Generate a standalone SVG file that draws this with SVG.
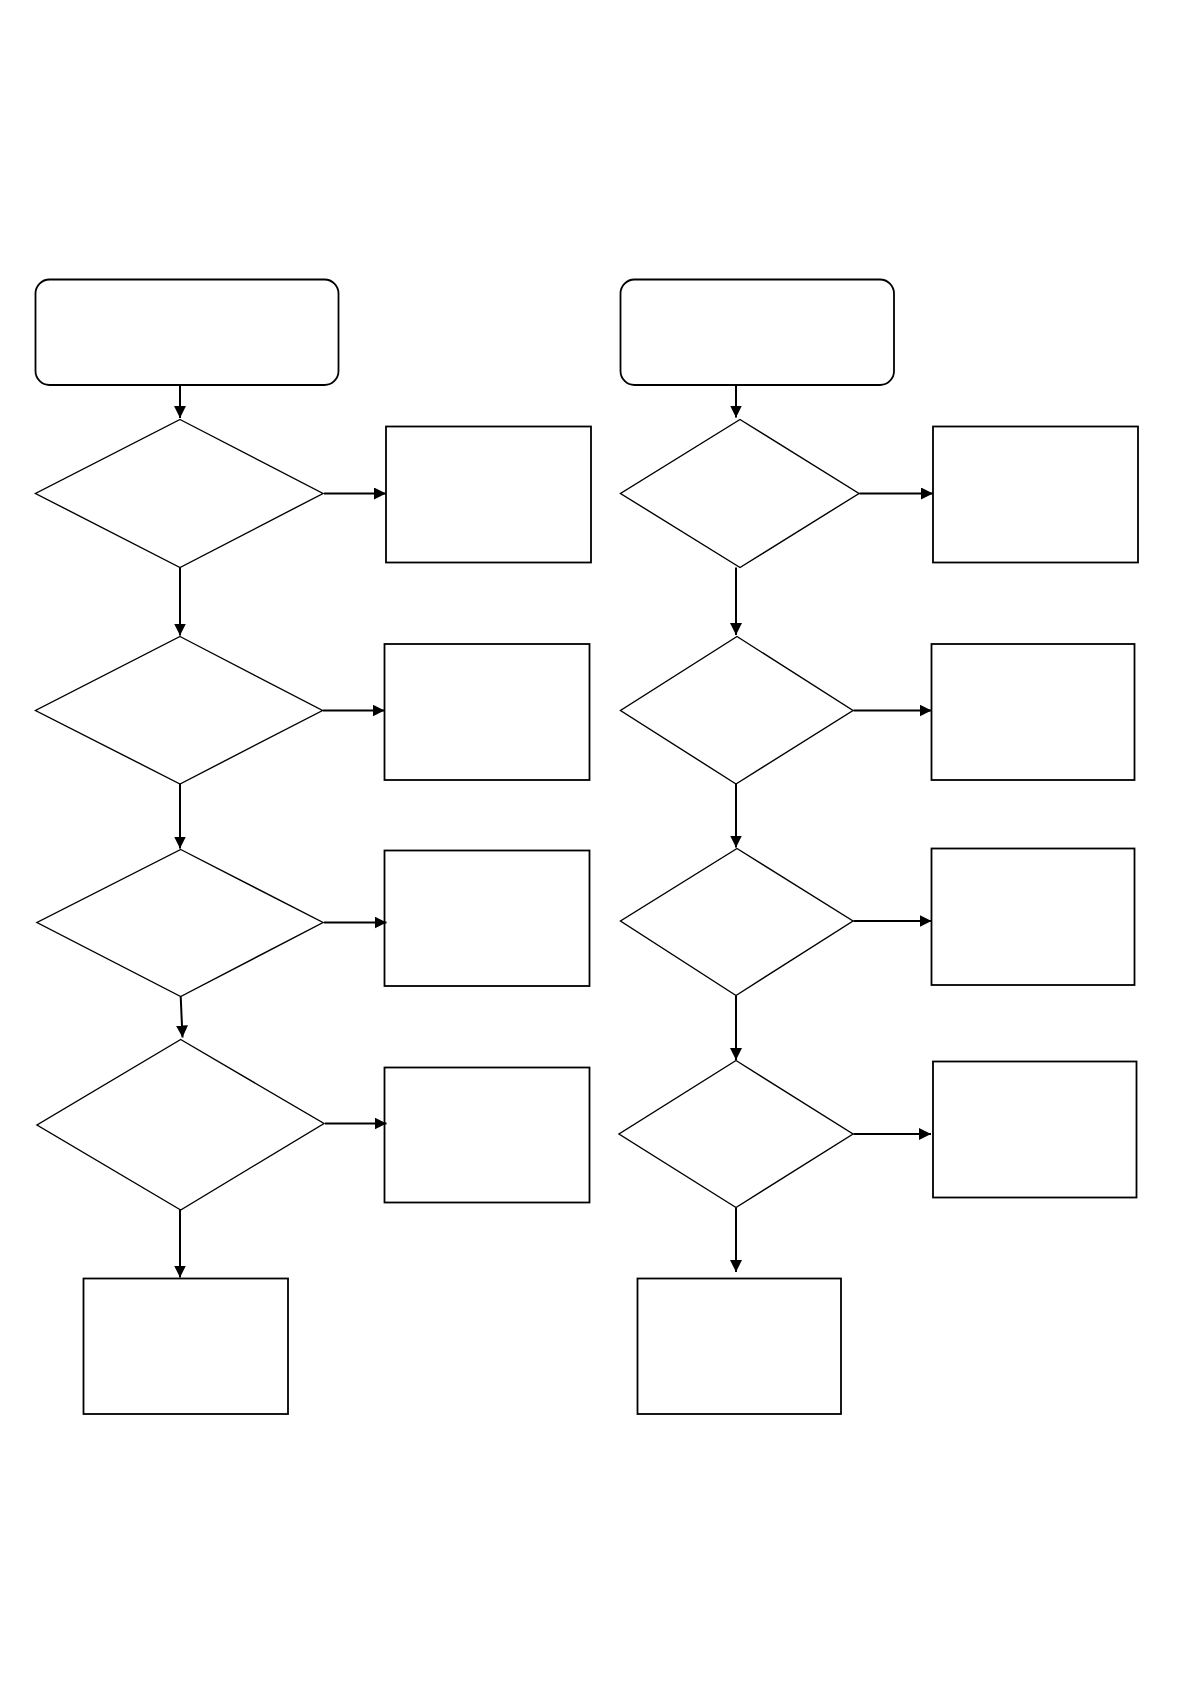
<svg xmlns="http://www.w3.org/2000/svg" width="1190" height="1684" viewBox="0 0 1190 1684">
<style>
.n{fill:#fff;stroke:#000;stroke-width:1.8}
.d{fill:#fff;stroke:#000;stroke-width:1.4}
.c{fill:none;stroke:#000;stroke-width:2}
</style>
<defs>
<marker id="ah" markerUnits="userSpaceOnUse" markerWidth="12" markerHeight="12" refX="12" refY="6" orient="auto">
<path d="M0,0 L12,6 L0,12 z" fill="#000"/>
</marker>
</defs>
<rect width="1190" height="1684" fill="#fff"/>
<g id="start-left"><rect class="n" x="35.5" y="279.5" width="303" height="105.5" rx="14"/></g>
<g id="start-right"><rect class="n" x="620.5" y="279.5" width="273.5" height="105.5" rx="14"/></g>

<g id="dl1"><polygon class="d" points="180,419.5 323,493.5 180,567.5 35.5,493.5"/></g>
<g id="dl2"><polygon class="d" points="180,636.5 322.5,710.5 180,784 35.5,710.5"/></g>
<g id="dl3"><polygon class="d" points="180.7,849.5 323,922.5 180.7,996.5 37,922.5"/></g>
<g id="dl4"><polygon class="d" points="180.7,1039.5 324,1123.5 180.7,1210 37,1125"/></g>

<g id="dr1"><polygon class="d" points="740,419.5 859,493.5 740,567.5 620.5,493.5"/></g>
<g id="dr2"><polygon class="d" points="737,636.5 853,710.5 736,784 620.5,710.5"/></g>
<g id="dr3"><polygon class="d" points="737,848.5 853,921 736,995.5 620.5,921"/></g>
<g id="dr4"><polygon class="d" points="736,1060.5 853,1134 736,1207.5 619,1134"/></g>

<g id="bl1"><rect class="n" x="386" y="426.5" width="205" height="136"/></g>
<g id="bl2"><rect class="n" x="384.5" y="644" width="205" height="136"/></g>
<g id="bl3"><rect class="n" x="384.5" y="850.5" width="205" height="135.5"/></g>
<g id="bl4"><rect class="n" x="384.5" y="1067.5" width="205" height="135"/></g>
<g id="bl5"><rect class="n" x="83.5" y="1278.5" width="204.5" height="135.5"/></g>

<g id="br1"><rect class="n" x="933" y="426.5" width="205" height="136"/></g>
<g id="br2"><rect class="n" x="931.5" y="644" width="203" height="136"/></g>
<g id="br3"><rect class="n" x="931.5" y="848.5" width="203" height="136.5"/></g>
<g id="br4"><rect class="n" x="933" y="1061.5" width="203.5" height="136"/></g>
<g id="br5"><rect class="n" x="637.5" y="1278.5" width="203.5" height="135.5"/></g>

<g id="connectors">
<line class="c" x1="180" y1="385" x2="180" y2="418" marker-end="url(#ah)"/>
<line class="c" x1="324" y1="493.5" x2="386" y2="493.5" marker-end="url(#ah)"/>
<line class="c" x1="180" y1="567.5" x2="180" y2="635.5" marker-end="url(#ah)"/>
<line class="c" x1="323" y1="710.5" x2="384.5" y2="710.5" marker-end="url(#ah)"/>
<line class="c" x1="180" y1="784" x2="180" y2="848.5" marker-end="url(#ah)"/>
<line class="c" x1="324" y1="922.5" x2="386.5" y2="922.5" marker-end="url(#ah)"/>
<line class="c" x1="180.7" y1="996.5" x2="182.5" y2="1037.5" marker-end="url(#ah)"/>
<line class="c" x1="325" y1="1123.5" x2="386.5" y2="1123.5" marker-end="url(#ah)"/>
<line class="c" x1="180" y1="1210" x2="180" y2="1277.5" marker-end="url(#ah)"/>

<line class="c" x1="736" y1="385" x2="736" y2="417.5" marker-end="url(#ah)"/>
<line class="c" x1="859.5" y1="493.5" x2="933" y2="493.5" marker-end="url(#ah)"/>
<line class="c" x1="736" y1="567.5" x2="736" y2="635" marker-end="url(#ah)"/>
<line class="c" x1="853.5" y1="710.5" x2="931.5" y2="710.5" marker-end="url(#ah)"/>
<line class="c" x1="736" y1="784" x2="736" y2="847.5" marker-end="url(#ah)"/>
<line class="c" x1="853.5" y1="921" x2="931.5" y2="921" marker-end="url(#ah)" stroke-width="2.5"/>
<line class="c" x1="736" y1="995.5" x2="736" y2="1060" marker-end="url(#ah)"/>
<line class="c" x1="853.5" y1="1134" x2="931" y2="1134" marker-end="url(#ah)"/>
<line class="c" x1="736" y1="1207.5" x2="736" y2="1272" marker-end="url(#ah)"/>
</g>
</svg>
